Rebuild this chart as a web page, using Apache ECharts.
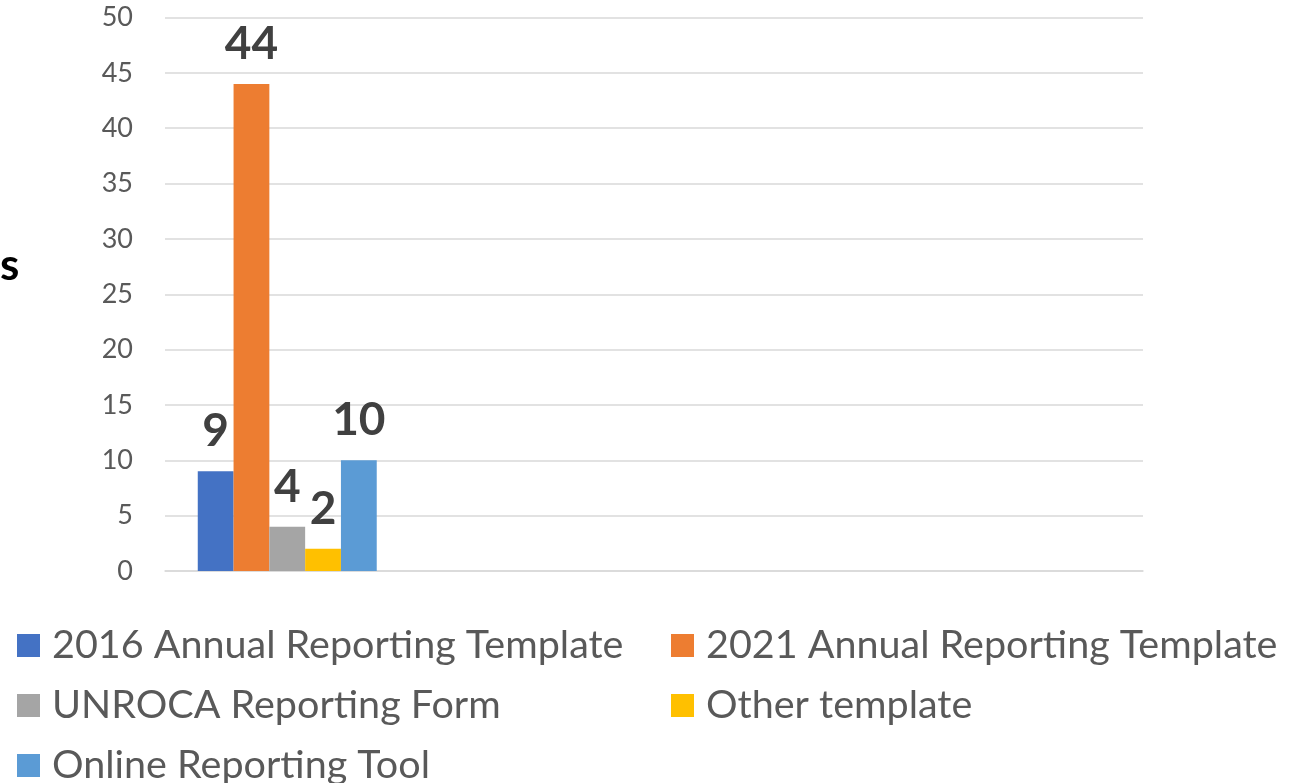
<!DOCTYPE html>
<html>
<head>
<meta charset="utf-8">
<script src="https://cdn.jsdelivr.net/npm/echarts@6/dist/echarts.min.js"></script>
<style>html,body{margin:0;padding:0;background:#fff}#c{width:1296px;height:783px}</style>
</head>
<body>
<div id="c"></div>
<script>
const categories = ['Group 1', 'Group 2', 'Group 3', 'Group 4'];
const seriesNames = ['2016 Annual Reporting Template', '2021 Annual Reporting Template', 'UNROCA Reporting Form', 'Other template', 'Online Reporting Tool'];
const seriesValues = [
  [9, null, null, null],
  [44, null, null, null],
  [4, null, null, null],
  [2, null, null, null],
  [10, null, null, null]
];
const colors = ['#4472C4', '#ED7D31', '#A5A5A5', '#FFC000', '#5B9BD5'];
const yTicks = { min: 0, max: 50, interval: 5 };

const FONT = 'Lato';
const chart = echarts.init(document.getElementById('c'), null, { renderer: 'canvas' });
const series = seriesNames.map((n, i) => ({
  name: n,
  type: 'bar',
  data: seriesValues[i],
  barGap: '0%',
  barCategoryGap: '26.8%',
  itemStyle: { color: colors[i] },
  label: {
    show: true, position: 'top', distance: 17,
    fontFamily: FONT, fontWeight: 'bold', fontSize: 46, color: '#404040'
  }
}));
const legendText = { fontFamily: FONT, fontSize: 39.5, lineHeight: 39, color: '#595959', padding: [0, 0, 0, 7] };
chart.setOption({
  animation: false,
  color: colors,
  grid: { left: 165, right: 153, top: 17.5, bottom: 212, containLabel: false },
  xAxis: {
    type: 'category', data: categories,
    axisLine: { lineStyle: { color: '#D9D9D9', width: 1.5 } },
    axisTick: { show: false }, axisLabel: { show: false }
  },
  yAxis: {
    type: 'value', min: yTicks.min, max: yTicks.max, interval: yTicks.interval,
    axisLine: { show: false }, axisTick: { show: false },
    axisLabel: { fontFamily: FONT, fontSize: 27, color: '#595959', margin: 32 },
    splitLine: { lineStyle: { color: '#D9D9D9', width: 1.5 } }
  },
  legend: [
    {
      data: [seriesNames[0], seriesNames[2], seriesNames[4]],
      orient: 'vertical', left: 12, top: 620.5, height: 200, itemGap: 20,
      itemWidth: 23, itemHeight: 23, icon: 'rect',
      textStyle: legendText
    },
    {
      data: [seriesNames[1], seriesNames[3]],
      orient: 'vertical', left: 666, top: 620.5, height: 200, itemGap: 20,
      itemWidth: 23, itemHeight: 23, icon: 'rect',
      textStyle: legendText
    }
  ],
  graphic: [{
    type: 'text', left: 0, top: 244,
    style: { text: 's', fontFamily: FONT, fontWeight: 'bold', fontSize: 44, fill: '#000' }
  }],
  series: series
});
</script>
</body>
</html>
